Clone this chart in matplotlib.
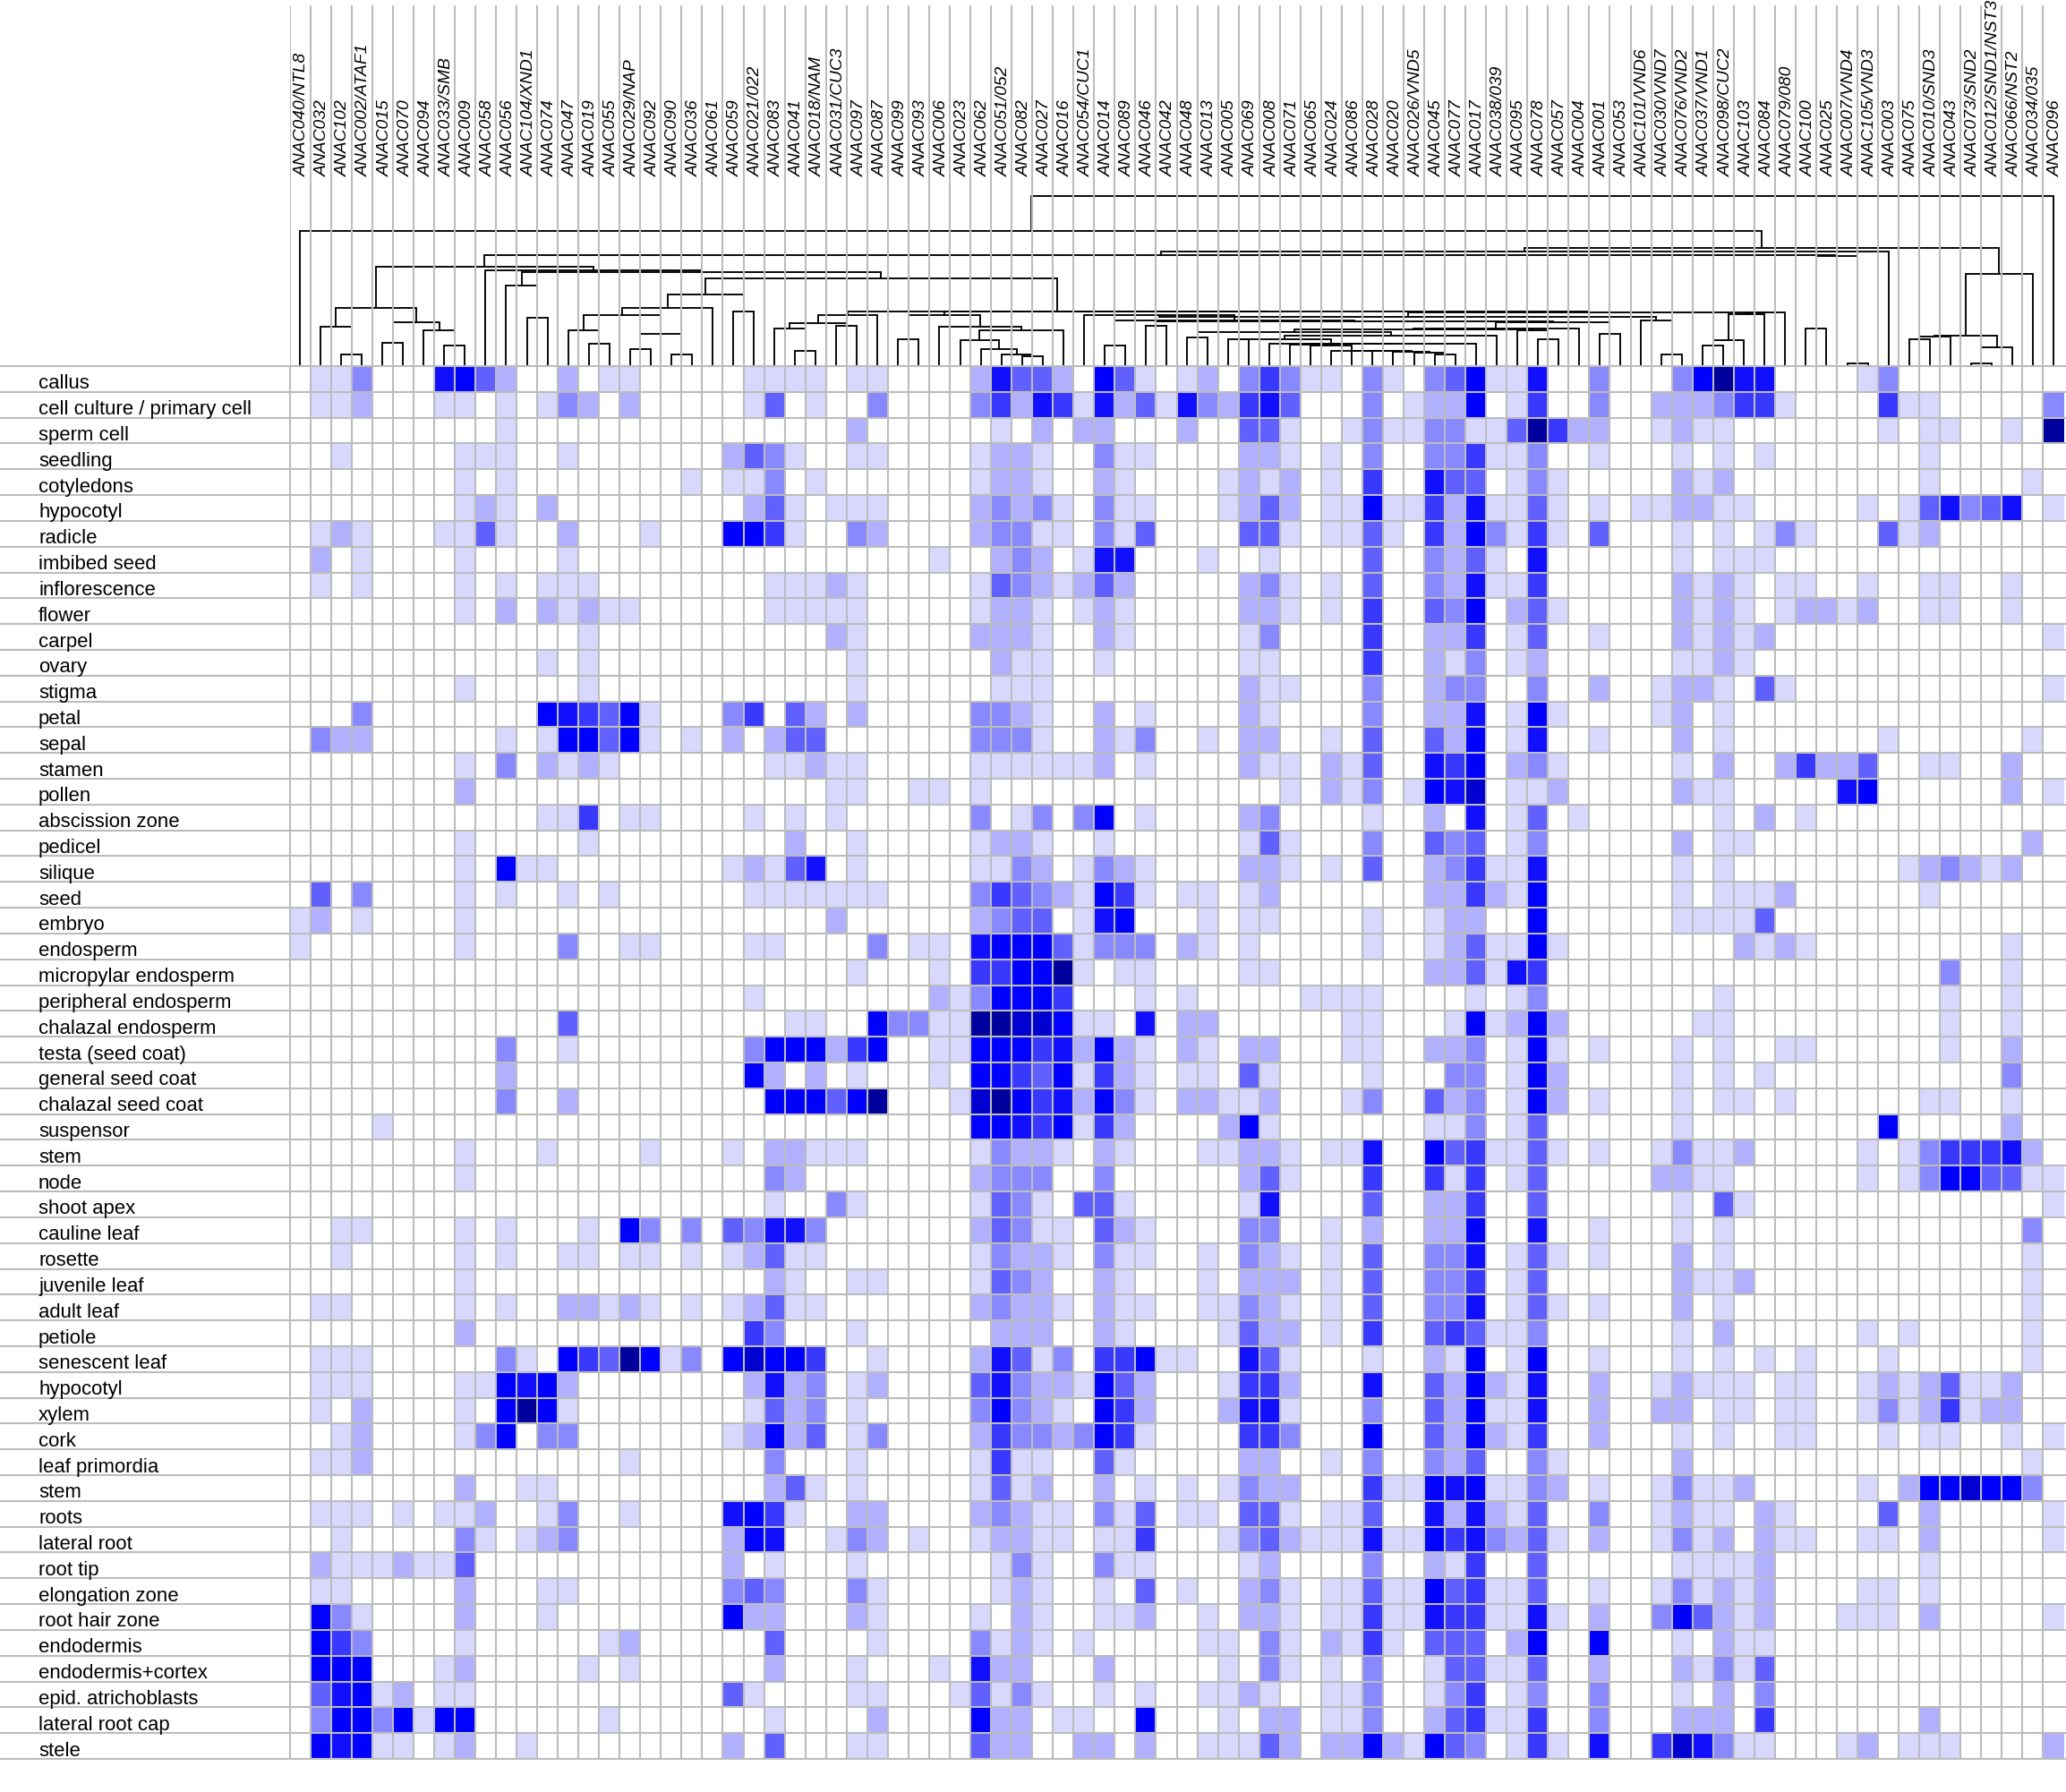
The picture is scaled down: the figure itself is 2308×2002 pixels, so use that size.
import numpy as np
import matplotlib
matplotlib.use("Agg")
import matplotlib.pyplot as plt
from matplotlib.colors import ListedColormap

plt.rcParams['font.family'] = ['Liberation Sans', 'DejaVu Sans']

genes = ["ANAC040/NTL8", "ANAC032", "ANAC102", "ANAC002/ATAF1", "ANAC015", "ANAC070", "ANAC094", "ANAC033/SMB",
         "ANAC009", "ANAC058", "ANAC056", "ANAC104/XND1", "ANAC074", "ANAC047", "ANAC019", "ANAC055", "ANAC029/NAP",
         "ANAC092", "ANAC090", "ANAC036", "ANAC061", "ANAC059", "ANAC021/022", "ANAC083", "ANAC041", "ANAC018/NAM",
         "ANAC031/CUC3", "ANAC097", "ANAC087", "ANAC099", "ANAC093", "ANAC006", "ANAC023", "ANAC062", "ANAC051/052",
         "ANAC082", "ANAC027", "ANAC016", "ANAC054/CUC1", "ANAC014", "ANAC089", "ANAC046", "ANAC042", "ANAC048",
         "ANAC013", "ANAC005", "ANAC069", "ANAC008", "ANAC071", "ANAC065", "ANAC024", "ANAC086", "ANAC028", "ANAC020",
         "ANAC026/VND5", "ANAC045", "ANAC077", "ANAC017", "ANAC038/039", "ANAC095", "ANAC078", "ANAC057", "ANAC004",
         "ANAC001", "ANAC053", "ANAC101/VND6", "ANAC030/VND7", "ANAC076/VND2", "ANAC037/VND1", "ANAC098/CUC2",
         "ANAC103", "ANAC084", "ANAC079/080", "ANAC100", "ANAC025", "ANAC007/VND4", "ANAC105/VND3", "ANAC003",
         "ANAC075", "ANAC010/SND3", "ANAC043", "ANAC073/SND2", "ANAC012/SND1/NST3", "ANAC066/NST2", "ANAC034/035",
         "ANAC096"]

tissues = ["callus", "cell culture / primary cell", "sperm cell", "seedling", "cotyledons", "hypocotyl", "radicle",
           "imbibed seed", "inflorescence", "flower", "carpel", "ovary", "stigma", "petal", "sepal", "stamen", "pollen",
           "abscission zone", "pedicel", "silique", "seed", "embryo", "endosperm", "micropylar endosperm",
           "peripheral endosperm", "chalazal endosperm", "testa (seed coat)", "general seed coat",
           "chalazal seed coat", "suspensor", "stem", "node", "shoot apex", "cauline leaf", "rosette", "juvenile leaf",
           "adult leaf", "petiole", "senescent leaf", "hypocotyl", "xylem", "cork", "leaf primordia", "stem", "roots",
           "lateral root", "root tip", "elongation zone", "root hair zone", "endodermis", "endodermis+cortex",
           "epid. atrichoblasts", "lateral root cap", "stele"]

# one colour step per level, 0 = not expressed
level_colors = ["#ffffff", "#d8d8ff", "#b0b0ff", "#8888ff", "#6060ff", "#3838ff", "#1010ff", "#0000ff", "#0000d0",
                "#00009c"]

# expression level per tissue: {gene column: level}, everything else is 0
levels = [
    {1:1,2:1,3:3,7:6,8:7,9:4,10:2,13:2,15:1,16:1,22:1,23:1,24:1,25:1,27:1,28:1,33:2,34:6,35:4,36:4,37:2,39:7,40:4,41:1,43:1,44:2,46:3,47:5,48:3,49:1,50:1,52:3,53:1,55:3,56:4,57:7,58:1,59:1,60:6,63:3,67:3,68:7,69:9,70:6,71:6,76:1,77:3},
    {1:1,2:1,3:2,7:1,8:1,10:1,12:1,13:3,14:2,16:2,22:1,23:4,25:1,28:3,33:3,34:5,35:2,36:6,37:5,38:1,39:6,40:2,41:4,42:1,43:6,44:3,45:2,46:5,47:6,48:4,52:3,54:1,55:2,56:2,57:7,59:1,60:5,63:3,66:2,67:2,68:2,69:3,70:5,71:5,72:1,77:5,78:1,79:1,85:3},
    {10:1,27:2,34:1,36:2,38:2,39:2,43:2,46:4,47:4,48:1,51:1,52:3,53:1,54:1,55:3,56:3,57:1,58:1,59:4,60:9,61:5,62:2,63:2,66:1,67:2,68:1,69:1,77:1,79:1,80:1,83:1,85:9},
    {2:1,8:1,9:1,10:1,13:1,21:2,22:4,23:3,24:1,27:1,28:1,33:1,34:2,35:2,36:1,39:3,40:1,41:1,46:2,47:2,48:1,50:1,52:3,55:3,56:3,57:5,58:1,59:1,60:3,63:1,67:1,69:1,71:1,79:1},
    {8:1,10:1,19:1,21:1,22:1,23:3,25:1,33:1,34:2,35:2,36:1,39:2,40:1,45:1,46:2,47:1,48:2,50:1,52:5,55:6,56:4,57:4,59:1,60:3,61:1,67:2,68:1,69:2,79:1,84:1},
    {8:1,9:2,10:1,12:2,22:2,23:4,24:1,26:1,27:1,28:1,33:2,34:3,35:2,36:3,37:1,39:3,40:1,41:1,45:1,46:2,47:4,48:2,50:1,51:1,52:7,53:1,54:1,55:5,56:2,57:6,58:1,59:1,60:4,61:1,63:1,65:1,66:1,67:2,68:2,69:1,70:1,76:1,78:1,79:4,80:6,81:3,82:4,83:6,85:1},
    {1:1,2:2,3:1,7:1,8:1,9:4,10:1,13:2,17:1,21:7,22:7,23:5,24:1,27:3,28:2,33:2,34:3,35:3,36:1,37:1,39:3,40:1,41:4,46:4,47:4,48:1,50:1,51:1,52:4,53:1,55:5,56:2,57:7,58:3,59:1,60:5,61:1,63:4,67:1,69:1,71:1,72:3,73:1,77:4,78:1,79:2},
    {1:2,3:1,8:1,13:1,31:1,34:2,35:3,36:2,38:1,39:6,40:6,44:1,47:1,52:4,55:3,56:2,57:4,58:1,60:6,67:1,69:1,70:1,71:1},
    {1:1,3:1,8:1,10:1,12:1,13:1,14:1,23:1,24:1,25:1,26:2,27:1,33:1,34:4,35:3,36:2,37:1,38:2,39:4,40:2,46:2,47:3,48:1,50:1,52:4,55:3,56:2,57:6,58:1,59:1,60:5,67:2,68:1,69:2,70:1,72:1,73:1,76:1,79:1,80:1,83:1},
    {8:1,10:2,12:2,13:1,14:2,15:1,16:1,23:1,24:1,25:1,26:1,27:1,33:1,34:2,35:2,36:1,38:1,39:2,40:1,46:2,47:2,48:1,50:1,52:5,55:4,56:3,57:7,59:2,60:4,61:1,67:2,68:1,69:2,70:1,72:1,73:2,74:2,75:1,76:2,79:1,80:1,83:1},
    {14:1,26:2,27:1,33:2,34:2,35:2,36:1,39:2,40:1,46:1,47:3,52:5,55:2,56:2,57:5,59:1,60:4,63:1,67:2,68:1,69:2,70:1,71:2,85:1},
    {12:1,14:1,27:1,34:2,35:1,36:1,39:1,46:1,47:1,52:5,55:2,56:1,57:3,59:1,60:2,67:1,68:1,69:2,70:1},
    {8:1,14:1,27:1,34:1,35:1,36:1,46:2,47:1,48:1,52:3,55:2,56:3,57:3,60:3,63:2,66:1,67:2,68:2,69:1,71:4,72:1,85:1},
    {3:3,12:7,13:6,14:5,15:4,16:7,17:1,21:3,22:5,24:4,25:2,27:2,33:3,34:3,35:2,36:1,39:2,41:1,46:2,47:1,52:3,55:2,56:2,57:6,59:1,60:7,61:1,66:1,67:2,69:1},
    {1:3,2:2,3:2,10:1,12:1,13:7,14:7,15:4,16:7,17:1,19:1,21:2,23:2,24:4,25:4,33:3,34:3,35:3,36:1,39:2,40:1,41:3,44:1,46:2,47:2,50:1,52:4,55:4,56:2,57:7,59:1,60:6,63:1,67:2,69:1,77:1,84:1},
    {8:1,10:3,12:2,13:1,14:2,15:1,23:1,24:1,25:2,26:1,27:1,33:1,34:1,35:1,36:1,37:1,38:1,39:2,41:1,46:2,47:1,48:1,50:2,51:1,52:4,55:6,56:5,57:7,59:2,60:3,61:1,67:1,69:2,72:2,73:5,74:2,75:2,76:4,79:1,80:1,83:2},
    {8:2,26:1,27:1,30:1,31:1,33:1,48:1,50:2,51:1,52:3,54:1,55:7,56:6,57:8,59:1,60:1,61:2,67:2,68:1,69:1,75:6,76:7,83:2,85:1},
    {12:1,13:1,14:5,16:1,17:1,22:1,24:1,26:1,33:3,35:1,36:3,38:3,39:7,41:1,46:2,47:3,52:1,55:2,57:6,59:1,60:4,62:1,69:1,71:2,73:1},
    {8:1,14:1,24:2,27:1,33:1,34:2,35:2,36:1,39:1,46:1,47:4,48:1,52:3,55:4,56:3,57:4,59:1,60:3,67:2,69:1,70:1,84:2},
    {8:1,10:7,11:1,12:1,21:1,22:2,23:1,24:4,25:6,27:1,33:1,34:1,35:3,36:2,38:1,39:3,40:2,41:1,46:2,47:2,48:1,50:1,52:4,55:2,56:3,57:5,58:1,59:1,60:6,67:1,69:1,78:1,79:2,80:3,81:2,82:1,83:2},
    {1:4,3:3,8:1,10:1,13:1,15:1,22:1,23:1,24:1,25:1,26:1,27:1,28:1,33:3,34:5,35:4,36:3,37:2,38:1,39:7,40:5,41:1,43:1,44:1,46:1,47:2,55:2,56:2,57:5,58:2,59:1,60:7,67:1,69:1,70:1,71:1,72:2,79:1},
    {0:1,1:2,3:1,8:1,26:2,33:2,34:3,35:4,36:4,38:1,39:6,40:7,44:1,46:1,47:1,52:1,55:1,56:2,57:2,60:7,67:1,68:1,69:1,70:1,71:4},
    {0:1,8:1,13:3,16:1,17:1,22:1,23:1,28:3,30:1,31:1,33:6,34:7,35:7,36:7,37:4,38:1,39:3,40:3,41:3,43:2,44:1,46:1,52:1,55:1,56:2,57:4,58:1,59:1,60:7,61:1,70:2,71:1,72:2,73:1,83:1},
    {27:1,31:1,33:5,34:5,35:7,36:7,37:9,38:1,40:1,41:1,46:1,47:1,55:2,56:2,57:4,58:1,59:6,60:5,80:3,83:1},
    {22:1,31:2,32:1,33:3,34:7,35:7,36:7,37:5,41:1,43:1,49:1,50:1,51:1,52:1,57:1,59:1,60:3,69:1,80:1,83:1},
    {13:4,24:1,25:1,28:7,29:3,30:3,31:1,32:1,33:9,34:9,35:8,36:8,37:7,38:1,39:1,41:6,43:2,44:2,51:1,52:1,56:1,57:7,58:1,59:2,60:7,61:2,68:1,69:1,80:1,83:1},
    {10:3,13:1,22:3,23:7,24:7,25:7,26:2,27:5,28:7,31:1,32:1,33:7,34:7,35:7,36:5,37:6,38:2,39:7,40:2,41:1,43:2,44:1,46:2,47:2,51:1,52:1,55:2,56:2,57:3,59:1,60:7,61:1,63:1,67:1,69:1,72:1,73:1,80:1,83:2},
    {10:2,22:7,23:2,25:2,27:1,31:1,33:7,34:7,35:5,36:4,37:7,38:1,39:5,40:2,41:1,43:1,44:1,46:4,47:1,52:1,56:3,57:3,59:1,60:7,61:2,67:1,69:1,71:1,83:3},
    {10:3,13:2,23:7,24:7,25:7,26:4,27:7,28:9,32:1,33:8,34:9,35:7,36:5,37:6,38:2,39:7,40:3,41:1,43:2,44:2,45:1,46:1,47:2,51:1,52:3,55:4,56:2,57:3,59:1,60:7,61:2,63:1,67:1,69:1,70:1,72:1,79:1,80:1,83:1},
    {4:1,33:7,34:7,35:6,36:5,37:7,38:1,39:5,40:2,45:2,46:7,47:1,55:1,56:1,57:3,59:1,60:4,67:1,77:7,83:2},
    {8:1,12:1,17:1,21:1,23:2,24:2,25:1,26:1,27:1,33:1,34:3,35:2,36:2,37:1,39:2,40:1,44:1,45:1,46:2,47:2,48:1,50:1,51:1,52:6,55:7,56:4,57:5,58:1,59:1,60:4,61:1,63:1,66:1,67:3,68:1,69:1,70:2,76:1,78:1,79:3,80:5,81:5,82:5,83:6,84:2},
    {8:1,23:3,24:2,33:2,34:3,35:3,36:3,39:3,46:2,47:4,48:1,52:5,55:5,56:1,57:5,59:1,60:4,66:2,67:2,68:1,69:1,76:1,78:1,79:3,80:7,81:7,82:4,83:4,84:1,85:1},
    {23:1,26:3,27:1,33:1,34:4,35:3,36:1,38:4,39:4,40:1,46:1,47:6,52:4,55:2,56:2,57:5,60:4,67:1,69:4,70:1,85:1},
    {2:1,3:1,8:1,10:1,14:1,16:7,17:3,19:3,21:4,22:3,23:6,24:6,25:3,33:2,34:4,35:3,36:1,37:1,39:4,40:2,41:1,46:3,47:3,50:1,52:2,55:2,56:2,57:7,60:6,63:1,67:1,69:1,84:3},
    {2:1,8:1,10:1,13:1,14:1,16:1,17:1,19:1,21:1,22:2,23:4,24:1,25:1,33:1,34:3,35:2,36:2,37:1,39:3,40:1,41:1,44:1,46:3,47:2,48:1,50:1,52:4,55:3,56:3,57:6,59:1,60:4,61:1,63:1,67:2,69:1,84:1},
    {8:1,23:2,24:1,27:1,28:1,33:1,34:4,35:3,36:2,39:2,40:1,44:1,46:2,47:2,48:2,50:1,52:4,55:3,56:3,57:5,59:1,60:4,67:2,68:1,69:1,70:2,84:1},
    {1:1,2:1,8:1,10:1,13:2,14:2,15:1,16:2,17:1,19:1,21:1,22:2,23:4,24:1,25:1,33:2,34:3,35:2,36:2,37:1,39:2,40:1,41:1,44:1,45:1,46:3,47:2,48:1,50:1,52:4,55:3,56:3,57:6,59:1,60:4,61:1,63:1,67:2,69:1,84:1},
    {8:2,22:5,23:3,27:1,34:2,35:2,36:2,39:2,40:1,45:1,46:4,47:2,48:2,50:1,52:5,55:4,56:5,57:4,58:1,59:1,60:3,67:1,69:2,76:1,78:1,84:1},
    {1:1,2:1,3:1,10:3,11:1,13:7,14:5,15:4,16:9,17:7,18:1,19:3,21:7,22:8,23:7,24:7,25:5,28:1,33:2,34:6,35:4,36:1,37:3,39:5,40:5,41:7,42:1,43:1,46:6,47:4,48:1,52:1,55:2,56:1,57:7,59:1,60:7,63:1,67:1,69:1,71:1,73:1,77:1,84:1},
    {1:1,2:1,3:1,8:1,9:1,10:7,11:6,12:7,13:2,22:2,23:6,24:2,25:3,27:1,28:2,33:4,34:6,35:3,36:2,37:2,38:1,39:7,40:4,41:2,45:1,46:5,47:5,48:2,52:6,55:4,56:2,57:7,58:2,59:1,60:6,63:2,66:1,67:2,68:1,69:1,70:1,72:1,73:1,76:1,77:2,78:1,79:2,80:4,81:1,82:1,83:2},
    {1:1,3:2,8:1,10:7,11:9,12:7,13:1,22:1,23:4,24:2,25:3,27:1,33:3,34:7,35:3,36:2,37:1,39:7,40:5,41:2,45:2,46:6,47:6,48:1,52:3,55:4,56:2,57:7,58:1,59:1,60:6,63:2,66:2,67:2,69:1,70:1,72:1,73:1,76:1,77:3,78:1,79:2,80:5,81:1,82:2,83:2},
    {2:1,3:2,8:1,9:3,10:7,12:3,13:3,21:1,22:2,23:7,24:2,25:4,27:1,28:3,33:2,34:5,35:3,36:3,37:2,38:3,39:7,40:5,41:1,46:5,47:5,48:3,52:7,55:4,56:2,57:7,58:2,59:1,60:5,63:2,67:1,69:1,72:1,73:1,77:1,79:1,80:1,83:1,85:1},
    {1:1,2:1,3:2,16:1,23:3,27:1,33:1,34:5,35:1,36:1,39:4,40:1,46:2,47:2,50:1,52:3,55:3,56:2,57:4,60:3,61:1,67:2,84:1},
    {8:2,11:1,12:1,23:2,24:4,25:1,27:1,33:1,34:4,35:1,36:2,39:2,41:1,43:1,45:1,46:3,47:2,48:2,52:5,53:1,54:1,55:7,56:6,57:7,58:1,59:1,60:3,61:2,63:1,66:1,67:3,68:1,69:1,70:2,76:1,78:2,79:7,80:7,81:8,82:7,83:7,84:3},
    {1:1,2:1,3:1,5:1,7:1,8:1,9:2,12:1,13:3,16:1,21:6,22:7,23:5,24:1,27:2,28:2,33:2,34:3,35:2,36:1,37:1,39:3,40:1,41:4,43:1,44:1,46:4,47:4,48:1,50:1,51:1,52:4,55:6,56:2,57:6,58:2,59:1,60:4,63:3,66:1,67:2,68:1,69:1,71:2,72:1,77:4,79:2,85:1},
    {2:1,8:3,9:1,11:1,12:2,13:3,21:2,22:7,23:6,26:1,27:3,28:2,30:1,33:1,34:2,35:2,36:1,37:1,39:1,40:1,41:5,45:1,46:3,47:4,48:2,49:1,50:1,51:1,52:6,53:1,54:1,55:7,56:5,57:6,58:3,59:2,60:4,61:1,63:2,66:1,67:3,68:1,69:2,71:2,72:1,73:1,76:1,77:1,79:2,85:1},
    {1:2,2:1,3:1,4:1,5:2,6:1,7:1,8:4,21:2,23:1,27:1,34:1,35:3,36:1,39:3,40:1,41:1,46:1,47:2,52:3,55:2,56:1,57:5,60:4,67:1,68:1,69:1,70:1,71:2,79:1},
    {1:1,2:1,8:2,12:1,13:1,21:3,22:4,23:3,27:3,28:1,34:1,35:2,36:1,39:1,41:4,43:1,46:2,47:3,48:1,50:1,51:1,52:4,53:1,54:1,55:7,56:4,57:5,58:1,59:1,60:4,63:1,66:1,67:3,68:1,69:2,70:1,71:2,76:1,77:1,79:1},
    {1:7,2:3,3:1,8:2,12:1,21:7,22:2,23:2,27:2,28:1,33:1,35:2,36:1,39:1,40:1,41:2,44:1,46:2,47:2,48:1,50:1,51:1,52:5,53:1,54:1,55:6,56:5,57:5,58:1,59:1,60:6,61:1,63:2,66:3,67:7,68:4,69:2,70:1,71:2,75:1,76:1,77:1,79:2,85:1},
    {1:7,2:5,3:3,8:1,15:1,16:2,23:4,28:1,33:3,34:1,35:2,36:1,38:1,44:1,45:1,47:3,48:1,50:2,51:1,52:5,53:1,55:4,56:4,57:4,59:2,60:7,63:7,67:1,69:2,70:1,71:1},
    {1:7,2:7,3:7,7:1,8:2,14:1,16:1,23:2,27:1,31:1,33:6,34:2,35:2,39:2,45:1,47:3,48:1,50:1,52:3,55:1,56:4,57:4,58:1,59:1,60:4,63:2,67:2,68:1,69:3,70:1,71:4},
    {1:4,2:6,3:7,4:1,5:2,7:1,8:1,21:4,22:1,27:1,28:1,32:1,33:4,34:1,35:3,36:1,39:1,41:1,44:1,45:1,46:2,47:1,50:1,51:1,52:3,55:1,56:3,57:5,59:1,60:3,63:3,67:1,69:2,71:3},
    {1:3,2:7,3:7,4:3,5:7,6:1,7:7,8:7,15:1,23:1,28:2,33:7,34:2,35:2,37:1,38:1,41:7,45:1,47:2,48:2,50:1,51:1,52:3,55:2,56:4,57:5,58:1,59:1,60:5,63:3,67:2,68:2,69:2,71:5,79:2},
    {1:7,2:6,3:7,4:1,5:1,7:1,8:2,11:1,21:2,23:4,27:1,28:1,33:4,34:2,35:2,38:2,39:2,41:2,44:1,45:1,46:1,47:4,48:2,50:2,51:2,52:7,53:2,54:1,55:7,56:4,57:3,59:1,60:5,61:1,63:6,66:5,67:8,68:6,69:3,70:1,71:1,75:1,76:2,78:1,79:1,80:1,85:2},
]

# gene tree, children first: (node, left child, right child, height)
# an int child is a gene column
merges = [
    ("a1", 2, 3, 12.7), ("a2", 1, "a1", 43.7), ("a3", 4, 5, 26.3), ("a4", 7, 8, 22.7), ("a5", 6, "a4", 39.7),
    ("a6", "a3", "a5", 49.3), ("a7", "a2", "a6", 65),
    ("b1", 11, 12, 53.7), ("b2", 10, "b1", 89.7),
    ("e1", 14, 15, 24.7), ("e2", 13, "e1", 39.7), ("e3", 16, 17, 18.7), ("e4", 18, 19, 12.7), ("e5", "e3", "e4", 36),
    ("e6", "e2", "e5", 57), ("e7", "e6", 20, 65), ("e8", 21, 22, 61), ("e9", "e7", "e8", 80.3),
    ("k1", 24, 25, 17), ("k2", 23, "k1", 42), ("k3", 26, 27, 45.3), ("k4", "k2", "k3", 47.7), ("k5", "k4", 28, 57),
    ("m1", 35, 36, 11.3), ("m2", 34, "m1", 12.7), ("m3", 33, "m2", 18.7), ("m4", 32, "m3", 28.7), ("m5", "m4", 37, 39.7),
    ("m6", 31, "m5", 43.7), ("m7", 29, 30, 30.3), ("m8", "m7", "m6", 57),
    ("c1", 55, 56, 12.7), ("c2", 54, "c1", 15.3), ("c3", 53, "c2", 16), ("c4", 52, "c3", 16.7), ("c5", 51, "c4", 17),
    ("c6", 50, "c5", 17.3), ("c7", 49, "c6", 22.7), ("c8", 48, "c7", 23.7), ("c9", "c8", 57, 24.7), ("c10", 47, "c9", 25.3),
    ("c11", 45, 46, 29.7), ("c12", "c11", "c10", 30.3), ("c13", "c12", 58, 33.7), ("c14", 43, 44, 32),
    ("c15", "c14", "c13", 37.7),
    ("d1", 60, 61, 30.3), ("d2", 59, "d1", 40.3), ("d3", "c15", "d2", 41.3), ("d4", "d3", 62, 42), ("d5", 63, 64, 36),
    ("d6", "d4", "d5", 49.3), ("d7", 41, 42, 45.3), ("d8", "d7", "d6", 50), ("d9", 39, 40, 22.7), ("d10", "d9", "d8", 51),
    ("d11", 38, "d10", 57),
    ("r1", 66, 67, 12.7), ("r2", 65, "r1", 51), ("s", "d11", "r2", 54.7),
    ("t1", 68, 69, 22.7), ("t2", "t1", 70, 28.7), ("t3", "t2", 71, 58), ("t4", "t3", 72, 60),
    ("q2", "s", "t4", 60.5), ("q1", "m8", "q2", 61), ("q0", "k5", "q1", 61.3),
    ("dd", "e9", "q0", 97.7), ("bb", "b2", "dd", 105.3), ("aa", 9, "bb", 107), ("ac", "a7", "aa", 111),
    ("ad1", 73, 74, 42), ("ad2", 75, 76, 3.3), ("ad3", "ad1", "ad2", 122.7), ("ab", "ac", "ad3", 124.3),
    ("y", "ab", 77, 127.7),
    ("z1", 78, 79, 30.3), ("z2", "z1", 80, 33), ("z3", 81, 82, 3.3), ("z4", "z3", 83, 21), ("z5", "z2", "z4", 34.3),
    ("z6", "z5", 84, 103.3),
    ("x", "y", "z6", 132), ("w", 0, "x", 151.3), ("root", "w", 85, 189.7),
]

grid_color = "#bcbcbc"
W, H = 2308, 2002
left, right = 323.5, 2305.5
tree_top, heat_top, heat_bottom = 6, 409, 1965

matrix = np.zeros((len(tissues), len(genes)))
for i, row in enumerate(levels):
    for col, val in row.items():
        matrix[i, col] = val

fig = plt.figure(figsize=(W / 100, H / 100), dpi=100)
ax_tree = fig.add_axes([left / W, 1 - heat_top / H, (right - left) / W, (heat_top - tree_top) / H])
ax = fig.add_axes([left / W, 1 - heat_bottom / H, (right - left) / W, (heat_bottom - heat_top) / H])

# heatmap
cmap = ListedColormap(level_colors)
ax.pcolormesh(np.arange(len(genes) + 1), np.arange(len(tissues) + 1), matrix, cmap=cmap, vmin=-0.5, vmax=9.5)
ax.set_xlim(0, len(genes))
ax.set_ylim(len(tissues), 0)
ax.axis("off")

# grid goes over the cells and over the tree
label_x = (43 - left) / 23.05
ax.hlines(np.arange(len(tissues) + 1), -left / 23.05, (W - left) / 23.05, color=grid_color, lw=1.5, clip_on=False, zorder=3)
ax.vlines(np.arange(len(genes)), 0, len(tissues), color=grid_color, lw=1.5, clip_on=False, zorder=3)

for i, name in enumerate(tissues):
    ax.text(label_x, i + 0.88, name, ha="left", va="baseline", fontsize=15.9, color="black", clip_on=False)

# dendrogram
ax_tree.set_xlim(0, len(genes))
ax_tree.set_ylim(0, heat_top - tree_top)
ax_tree.axis("off")

nodes = {}
def place(child):
    if isinstance(child, str):
        return nodes[child]
    return child + 0.5, 0

for name, a, b, h in merges:
    xa, ha = place(a)
    xb, hb = place(b)
    ax_tree.plot([xa, xa, xb, xb], [ha, h, h, hb], color="black", lw=1.35, solid_joinstyle="miter", zorder=1)
    nodes[name] = ((xa + xb) / 2, h)

ax_tree.vlines(np.arange(len(genes)), 0, heat_top - tree_top, color=grid_color, lw=1.5, zorder=3)

for i, name in enumerate(genes):
    ax_tree.text(i + 0.62, 212, name, rotation=90, ha="center", va="bottom", fontsize=13.9, style="italic", color="black")

fig.savefig("out.png", dpi=100, facecolor="white")
